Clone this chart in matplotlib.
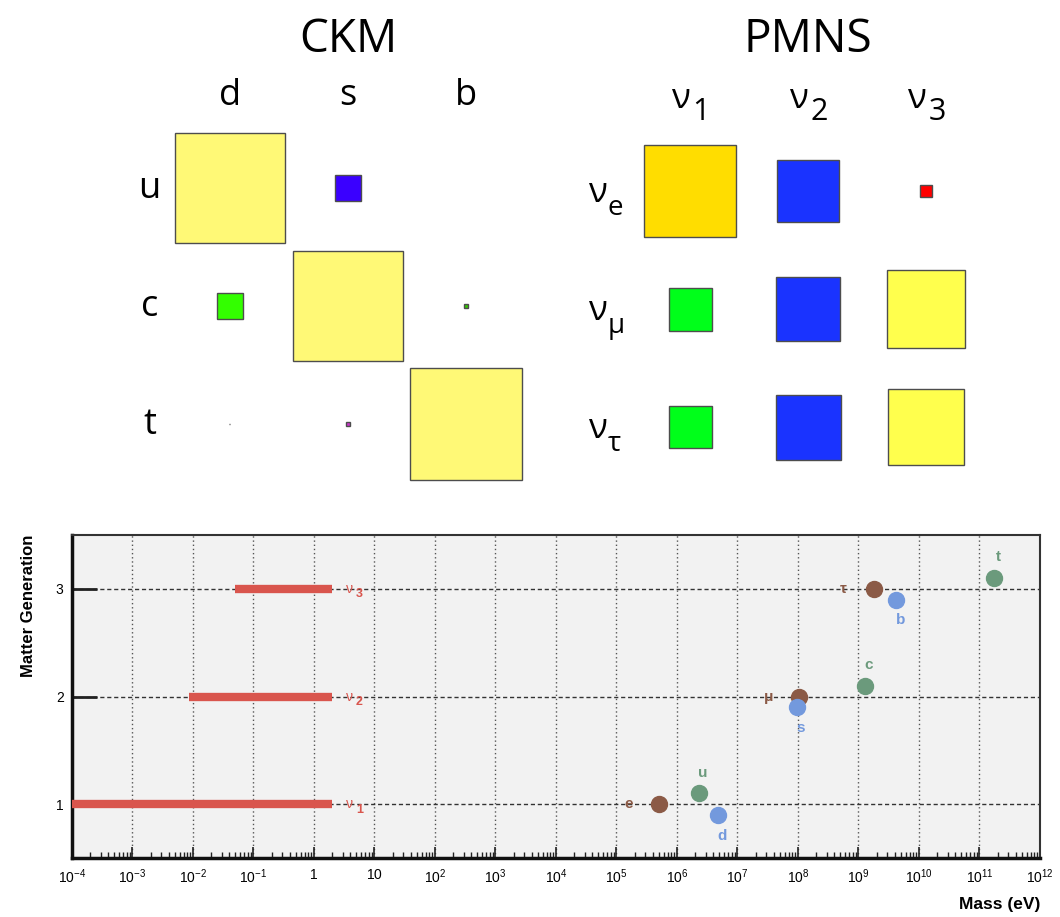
import numpy as np
import matplotlib
matplotlib.use("Agg")
import matplotlib.pyplot as plt
from matplotlib.patches import Rectangle
from matplotlib.ticker import LogLocator, NullFormatter

plt.rcParams["font.family"] = ["Open Sans", "DejaVu Sans"]
plt.rcParams["mathtext.fontset"] = "custom"
plt.rcParams["mathtext.rm"] = "Liberation Sans"
plt.rcParams["mathtext.it"] = "Liberation Sans:italic"
plt.rcParams["mathtext.bf"] = "Liberation Sans:bold"

# quark mixing matrix |V_ij|
ckm_rows = ["u", "c", "t"]
ckm_cols = ["d", "s", "b"]
ckm_vals = [[0.974, 0.225, 0.0037],
            [0.225, 0.973, 0.041],
            [0.0086, 0.040, 0.999]]
ckm_colors = [["#fff976", "#3a00ff", "#444444"],
              ["#33ff00", "#fff976", "#33cc00"],
              ["#444444", "#cc33cc", "#fff976"]]

# lepton mixing matrix |U_ij|
pmns_rows = ["e", "μ", "τ"]
pmns_cols = ["1", "2", "3"]
pmns_vals = [[0.82, 0.55, 0.10],
             [0.38, 0.57, 0.69],
             [0.38, 0.575, 0.68]]
pmns_colors = [["#ffdd00", "#1a33ff", "#ff0000"],
               ["#00ff1a", "#1a33ff", "#ffff4d"],
               ["#00ff1a", "#1a33ff", "#ffff4d"]]

# fermion masses (eV) vs generation
lepton_names = ["e", "μ", "τ"]
lepton_mass = [5.11e5, 1.057e8, 1.777e9]
lepton_gen = [1, 2, 3]
up_names = ["u", "c", "t"]
up_mass = [2.3e6, 1.27e9, 1.73e11]
up_gen = [1.1, 2.1, 3.1]
down_names = ["d", "s", "b"]
down_mass = [4.8e6, 9.5e7, 4.2e9]
down_gen = [0.9, 1.9, 2.9]
nu_names = ["1", "2", "3"]
nu_low = [1e-4, 8.6e-3, 5e-2]
nu_high = [2.0, 2.0, 2.0]
nu_gen = [1, 2, 3]
decades = list(range(-4, 13))

fig = plt.figure(figsize=(10.6, 9.17), dpi=100)

SCALE = 0.958  # square side per unit |V|, in cell units


def draw_matrix(ax, vals, colors):
    for i, row in enumerate(vals):
        for j, v in enumerate(row):
            side = v * SCALE
            ax.add_patch(Rectangle((j - side / 2, i - side / 2), side, side,
                                   facecolor=colors[i][j], edgecolor="#4d4d4d", lw=1))
    ax.set_xlim(-0.5, 2.5)
    ax.set_ylim(2.5, -0.5)
    ax.axis("off")


ax_ckm = fig.add_axes([0.1613, 0.4733, 0.334, 0.386])
draw_matrix(ax_ckm, ckm_vals, ckm_colors)
ax_ckm.text(1, -1.15, "CKM", ha="center", va="baseline", fontsize=33)
for j, c in enumerate(ckm_cols):
    ax_ckm.text(j, -0.70, c, ha="center", va="baseline", fontsize=26)
for i, r in enumerate(ckm_rows):
    ax_ckm.text(-0.68, i + 0.085, r, ha="center", va="baseline", fontsize=26)

ax_pmns = fig.add_axes([0.5953, 0.47, 0.334, 0.386])
draw_matrix(ax_pmns, pmns_vals, pmns_colors)
ax_pmns.text(1, -1.18, "PMNS", ha="center", va="baseline", fontsize=33)
for j, c in enumerate(pmns_cols):
    ax_pmns.text(j + 0.01, -0.70, "ν", ha="right", va="baseline", fontsize=25)
    ax_pmns.annotate(c, xy=(j + 0.01, -0.70), xytext=(1, -8), textcoords="offset points",
                     ha="left", va="baseline", fontsize=22, annotation_clip=False)
for i, r in enumerate(pmns_rows):
    ax_pmns.text(-0.70, i + 0.093, "ν", ha="right", va="baseline", fontsize=25)
    ax_pmns.annotate(r, xy=(-0.70, i + 0.093), xytext=(0, -9.5), textcoords="offset points",
                     ha="left", va="baseline", fontsize=20, annotation_clip=False)

# mass spectrum
ax = fig.add_axes([0.0679, 0.0643, 0.9132, 0.3522])
ax.set_facecolor("#f2f2f2")
ax.set_xscale("log")
ax.set_xlim(1e-4, 1e12)
ax.set_ylim(0.5, 3.5)

ax.set_xticks([10.0 ** d for d in decades])
ax.set_xticklabels(["$1$" if d == 0 else "$10$" if d == 1 else "$10^{%d}$" % d for d in decades])
ax.xaxis.set_minor_locator(LogLocator(base=10, subs=np.arange(2, 10), numticks=300))
ax.xaxis.set_minor_formatter(NullFormatter())
ax.set_yticks([1, 2, 3])
ax.set_yticklabels(["1", "2", "3"])

for lab in ax.get_xticklabels() + ax.get_yticklabels():
    lab.set_family("Liberation Sans")
    lab.set_fontsize(10)

ax.tick_params(axis="x", which="major", direction="in", length=8, width=1.2, pad=7, color="#222222")
ax.tick_params(axis="x", which="minor", direction="in", length=4, width=1, color="#222222")
ax.tick_params(axis="y", which="major", direction="in", length=18, width=2, pad=6, color="#222222")

ax.grid(axis="x", which="major", linestyle=(0, (1, 2)), color="#555555", lw=1)
ax.grid(axis="y", which="major", linestyle=(0, (3, 2)), color="#333333", lw=1)
ax.set_axisbelow(True)

for side in ["left", "bottom"]:
    ax.spines[side].set_linewidth(2.5)
    ax.spines[side].set_color("#111111")
for side in ["top", "right"]:
    ax.spines[side].set_linewidth(1.5)
    ax.spines[side].set_color("#333333")

red = "#d9554d"
for name, lo, hi, g in zip(nu_names, nu_low, nu_high, nu_gen):
    ax.plot([lo, hi], [g, g], color=red, lw=6, solid_capstyle="butt", zorder=3)
    ax.annotate("ν", xy=(hi, g), xytext=(10, 0), textcoords="offset points",
                ha="left", va="center", color=red, fontsize=10, family="Liberation Sans")
    ax.annotate(name, xy=(hi, g), xytext=(17, -4), textcoords="offset points",
                ha="left", va="center", color=red, fontsize=9, family="Liberation Sans",
                fontweight="bold")

groups = [
    (lepton_names, lepton_mass, lepton_gen, "#8b5a46", (-22, 0)),
    (up_names, up_mass, up_gen, "#6b9a7c", (3, 15)),
    (down_names, down_mass, down_gen, "#7399dd", (3, -15)),
]
for names, mass, gen, col, off in groups:
    ax.plot(mass, gen, "o", ms=11.5, color=col, mec=col, zorder=4, linestyle="none")
    for n, m, g in zip(names, mass, gen):
        ax.annotate(n, xy=(m, g), xytext=off, textcoords="offset points",
                    ha="center", va="center", color=col, fontsize=11,
                    family="Liberation Sans", fontweight="bold")

ax.set_ylabel("Matter Generation", loc="top", fontsize=12, fontweight="bold",
              family="Liberation Sans")
ax.yaxis.set_label_coords(-0.037, 1)
ax.set_xlabel("Mass (eV)", loc="right", fontsize=12.5, fontweight="bold",
              family="Liberation Sans")
ax.xaxis.set_label_coords(1, -0.12)

fig.savefig("out.png", dpi=100)
